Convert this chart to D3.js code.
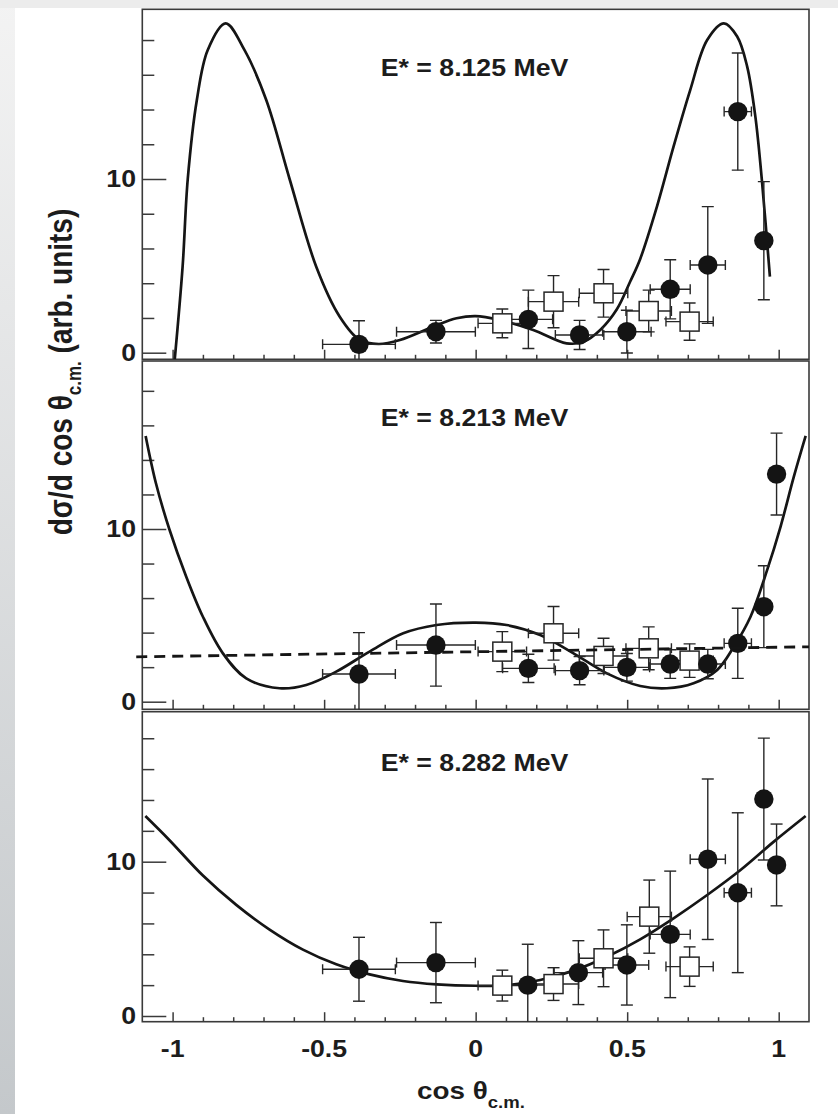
<!DOCTYPE html>
<html><head><meta charset="utf-8">
<script src="https://cdn.jsdelivr.net/npm/d3@7"></script>
<style>
html,body{margin:0;padding:0;background:#fff;}
svg{display:block;}
text{font-family:"Liberation Sans",Arial,Helvetica,sans-serif;font-weight:bold;fill:#1c1c1c;}
</style></head><body>
<svg id="c" width="838" height="1114"></svg>
<script>
// ---------------- data ----------------
const panelTitles = ["E* = 8.125 MeV", "E* = 8.213 MeV", "E* = 8.282 MeV"];
const xTickValues = [-1, -0.5, 0, 0.5, 1];
const xTickLabels = ["-1", "-0.5", "0", "0.5", "1"];
const yTickValues = [0, 10];
const yTickLabels = ["0", "10"];
const yMinorTicks = [0, 2, 4, 6, 8, 10, 12, 14, 16, 18];
const xMinorTicks = [-1, -0.9, -0.8, -0.7, -0.6, -0.5, -0.4, -0.3, -0.2, -0.1, 0, 0.1, 0.2, 0.3, 0.4, 0.5, 0.6, 0.7, 0.8, 0.9, 1];
const xTitle = "cos θ";
const xTitleSub = "c.m.";
const yTitleMain = "dσ/d cos θ";
const yTitleSub = "c.m.";
const yTitleEnd = " (arb. units)";

// points: [cos, value, xErr, yErr]
const circles8125 = [
  [-0.385, 0.48, 0.12, 1.36], [-0.131, 1.21, 0.13, 0.65], [0.174, 1.92, 0.08, 1.68],
  [0.343, 1.02, 0.08, 0.84], [0.499, 1.21, 0.08, 1.23], [0.642, 3.65, 0.066, 1.7],
  [0.766, 5.05, 0.058, 3.36], [0.865, 13.88, 0.045, 3.37], [0.951, 6.45, 0.03, 3.4]
];
const squares8125 = [
  [0.088, 1.69, 0.08, 0.83], [0.257, 2.94, 0.083, 1.5], [0.422, 3.42, 0.08, 1.37],
  [0.571, 2.4, 0.075, 1.2], [0.706, 1.79, 0.078, 1.07]
];
const fit8125 = [
  [-0.993, -0.4], [-0.967, 4.95], [-0.95, 10], [-0.92, 14.55], [-0.884, 17.43], [-0.825, 18.96],
  [-0.763, 17.43], [-0.691, 14.55], [-0.614, 10], [-0.526, 4.95], [-0.449, 2.09], [-0.382, 0.73],
  [-0.32, 0.5], [-0.25, 0.73], [-0.14, 1.5], [-0.063, 1.98], [0, 2.11], [0.08, 1.88], [0.19, 1.31],
  [0.3, 0.54], [0.356, 0.63], [0.411, 1.31], [0.466, 2.5], [0.51, 4.1], [0.543, 5.4], [0.598, 8.4],
  [0.653, 11.86], [0.708, 15.12], [0.764, 18.0], [0.819, 18.96], [0.863, 18.2], [0.896, 16.47],
  [0.923, 13.59], [0.945, 9.84], [0.971, 4.38]
];

const circles8213 = [
  [-0.385, 1.6, 0.12, 2.4], [-0.131, 3.28, 0.13, 2.38], [0.174, 1.93, 0.085, 0.82],
  [0.343, 1.8, 0.08, 0.82], [0.499, 1.99, 0.075, 0.8], [0.642, 2.18, 0.066, 0.83],
  [0.766, 2.18, 0.058, 0.85], [0.865, 3.38, 0.045, 2.03], [0.951, 5.5, 0.03, 2.37],
  [0.993, 13.18, 0.02, 2.37]
];
const squares8213 = [
  [0.088, 2.9, 0.08, 1.16], [0.257, 3.96, 0.083, 1.55], [0.422, 2.65, 0.08, 1.02],
  [0.571, 3.09, 0.075, 1.24], [0.706, 2.38, 0.078, 0.97]
];
const fit8213 = [
  [-1.089, 15.39], [-1.055, 12.65], [-1.011, 10.0], [-0.955, 7.24], [-0.9, 4.92], [-0.834, 2.8],
  [-0.757, 1.35], [-0.647, 0.78], [-0.559, 0.97], [-0.46, 1.74], [-0.35, 2.9], [-0.239, 3.96],
  [-0.129, 4.44], [0, 4.58], [0.102, 4.44], [0.213, 3.86], [0.323, 2.8], [0.433, 1.64],
  [0.543, 0.91], [0.631, 0.78], [0.719, 1.07], [0.797, 1.84], [0.852, 3.18], [0.907, 4.92],
  [0.962, 7.63], [1.006, 10.13], [1.05, 13.03], [1.089, 15.39]
];
const iso8213 = [[-1.12, 2.6], [1.1, 3.18]];

const circles8282 = [
  [-0.385, 3.03, 0.12, 2.07], [-0.131, 3.46, 0.13, 2.6], [0.172, 2.0, 0.08, 2.65],
  [0.339, 2.81, 0.08, 2.07], [0.499, 3.31, 0.072, 2.6], [0.642, 5.29, 0.066, 4.1],
  [0.766, 10.16, 0.058, 5.2], [0.865, 7.99, 0.045, 5.18], [0.951, 14.06, 0.03, 3.95],
  [0.993, 9.79, 0.02, 2.65]
];
const squares8282 = [
  [0.088, 1.97, 0.08, 1.0], [0.257, 2.07, 0.083, 1.06], [0.422, 3.74, 0.08, 1.84],
  [0.573, 6.44, 0.073, 2.37], [0.706, 3.2, 0.078, 1.28]
];
const fit8282 = [
  [-1.09, 12.96], [-1.011, 11.41], [-0.9, 9.1], [-0.79, 7.2], [-0.68, 5.6], [-0.57, 4.3],
  [-0.46, 3.35], [-0.35, 2.7], [-0.24, 2.27], [-0.129, 2.05], [0, 1.96], [0.102, 2.0],
  [0.213, 2.33], [0.323, 2.94], [0.433, 3.84], [0.543, 4.97], [0.653, 6.33], [0.764, 7.84],
  [0.874, 9.46], [0.984, 11.3], [1.089, 12.96]
];

// ---------------- layout ----------------
const W = 838, H = 1114;
const FL = 142.3, FR = 809;
const SX = 1.16;
const FS = 23;
const panels = [
  {top: 9.3,   bottom: 359.3,  y0: 352.7, y10: 179.0, titleY: 76,  circles: circles8125, squares: squares8125, fit: fit8125, dashed: null},
  {top: 361,   bottom: 709.3,  y0: 701.7, y10: 529.0, titleY: 426, circles: circles8213, squares: squares8213, fit: fit8213, dashed: iso8213},
  {top: 711.7, bottom: 1021.7, y0: 1016,  y10: 861.7, titleY: 771, circles: circles8282, squares: squares8282, fit: fit8282, dashed: null}
];

const svg = d3.select("#c");
const defs = svg.append("defs");
const lg = defs.append("linearGradient").attr("id", "lg").attr("x1", 0).attr("y1", 0).attr("x2", 0).attr("y2", 1);
lg.append("stop").attr("offset", "0%").attr("stop-color", "#f3f3f3");
lg.append("stop").attr("offset", "100%").attr("stop-color", "#c4c8cb");

svg.append("rect").attr("width", W).attr("height", H).attr("fill", "#fff");
svg.append("rect").attr("x", 0).attr("y", 0).attr("width", 15).attr("height", H).attr("fill", "url(#lg)");
svg.append("rect").attr("x", 0).attr("y", 0).attr("width", W).attr("height", 8).attr("fill", "#ececec");

const x = d3.scaleLinear().domain([-1.1, 1.1]).range([FL, FR]);

function stretchedText(g, str, px, py, anchor) {
  return g.append("text")
    .attr("transform", `translate(${px},${py}) scale(${SX},1)`)
    .attr("text-anchor", anchor)
    .attr("font-size", FS)
    .text(str);
}

panels.forEach((p, i) => {
  const y = d3.scaleLinear().domain([0, 10]).range([p.y0, p.y10]);
  const g = svg.append("g");
  const cid = "clip" + i;
  defs.append("clipPath").attr("id", cid).append("rect")
    .attr("x", FL).attr("y", p.top).attr("width", FR - FL).attr("height", p.bottom - p.top);

  g.append("rect").attr("x", FL).attr("y", p.top).attr("width", FR - FL).attr("height", p.bottom - p.top)
    .attr("fill", "#fff").attr("stroke", "#3a3a3a").attr("stroke-width", 1.6);

  const yMinor = g.append("g").attr("transform", `translate(${FL},0)`)
    .call(d3.axisRight(y).tickValues(yMinorTicks.filter(v => yTickValues.indexOf(v) < 0)).tickSize(12).tickFormat(""));
  const yMajor = g.append("g").attr("transform", `translate(${FL},0)`)
    .call(d3.axisRight(y).tickValues(yTickValues).tickSize(24).tickFormat(""));
  [yMinor, yMajor].forEach(a => {
    a.select(".domain").remove();
    a.selectAll("line").attr("stroke", "#3a3a3a").attr("stroke-width", 1.5);
  });
  yTickValues.forEach((v, k) => stretchedText(g, yTickLabels[k], 136, y(v) + 8, "end"));

  const xMinor = g.append("g").attr("transform", `translate(0,${p.bottom})`)
    .call(d3.axisTop(x).tickValues(xMinorTicks.filter(v => xTickValues.indexOf(v) < 0)).tickSize(4.5).tickFormat(""));
  const xMajor = g.append("g").attr("transform", `translate(0,${p.bottom})`)
    .call(d3.axisTop(x).tickValues(xTickValues).tickSize(9.5).tickFormat(""));
  [xMinor, xMajor].forEach(a => {
    a.select(".domain").remove();
    a.selectAll("line").attr("stroke", "#3a3a3a").attr("stroke-width", 1.5);
  });

  stretchedText(g, panelTitles[i], 474.5, p.titleY, "middle");

  const inner = g.append("g").attr("clip-path", `url(#${cid})`);
  const line = d3.line().x(d => x(d[0])).y(d => y(d[1])).curve(d3.curveCatmullRom.alpha(0.5));

  inner.append("path").attr("d", line(p.fit)).attr("fill", "none")
    .attr("stroke", "#151515").attr("stroke-width", 2.7).attr("stroke-linejoin", "round");

  const all = p.squares.concat(p.circles);
  all.forEach(d => {
    const cx = x(d[0]), cy = y(d[1]);
    const yl = y(d[1] - d[3]), yh = y(d[1] + d[3]);
    const xl = x(d[0] - d[2]), xh = x(d[0] + d[2]);
    const e = inner.append("g").attr("stroke", "#262626").attr("stroke-width", 1.4).attr("fill", "none");
    e.append("line").attr("x1", cx).attr("x2", cx).attr("y1", yl).attr("y2", yh);
    e.append("line").attr("x1", cx - 6).attr("x2", cx + 6).attr("y1", yl).attr("y2", yl);
    e.append("line").attr("x1", cx - 6).attr("x2", cx + 6).attr("y1", yh).attr("y2", yh);
    if (xh - cx > 10) {
      e.append("line").attr("x1", xl).attr("x2", xh).attr("y1", cy).attr("y2", cy);
      e.append("line").attr("x1", xl).attr("x2", xl).attr("y1", cy - 5).attr("y2", cy + 5);
      e.append("line").attr("x1", xh).attr("x2", xh).attr("y1", cy - 5).attr("y2", cy + 5);
    }
  });

  if (p.dashed) {
    g.append("path").attr("d", d3.line().x(d => x(d[0])).y(d => y(d[1]))(p.dashed))
      .attr("fill", "none").attr("stroke", "#151515").attr("stroke-width", 2.8).attr("stroke-dasharray", "11,7");
  }

  inner.selectAll(".sq").data(p.squares).enter().append("rect")
    .attr("x", d => x(d[0]) - 9.5).attr("y", d => y(d[1]) - 9.5).attr("width", 19).attr("height", 19)
    .attr("fill", "#fff").attr("stroke", "#262626").attr("stroke-width", 1.5);
  inner.selectAll(".ci").data(p.circles).enter().append("circle")
    .attr("cx", d => x(d[0])).attr("cy", d => y(d[1])).attr("r", 9.7).attr("fill", "#141414");

  if (i === panels.length - 1) {
    xTickValues.forEach((v, k) => stretchedText(g, xTickLabels[k], x(v), 1057, "middle"));
  }
});

const xt = svg.append("text").attr("transform", `translate(417,1099) scale(${SX},1)`).attr("font-size", 24);
xt.append("tspan").text(xTitle);
xt.append("tspan").attr("font-size", 16).attr("dy", 9).text(xTitleSub);

const yt = svg.append("text").attr("transform", `translate(72,372) scale(${SX},1) rotate(-90)`)
  .attr("text-anchor", "middle").attr("font-size", 28);
yt.append("tspan").text(yTitleMain);
yt.append("tspan").attr("font-size", 17).attr("dy", 8).text(yTitleSub);
yt.append("tspan").attr("dy", -8).text(yTitleEnd);
</script>
</body></html>
